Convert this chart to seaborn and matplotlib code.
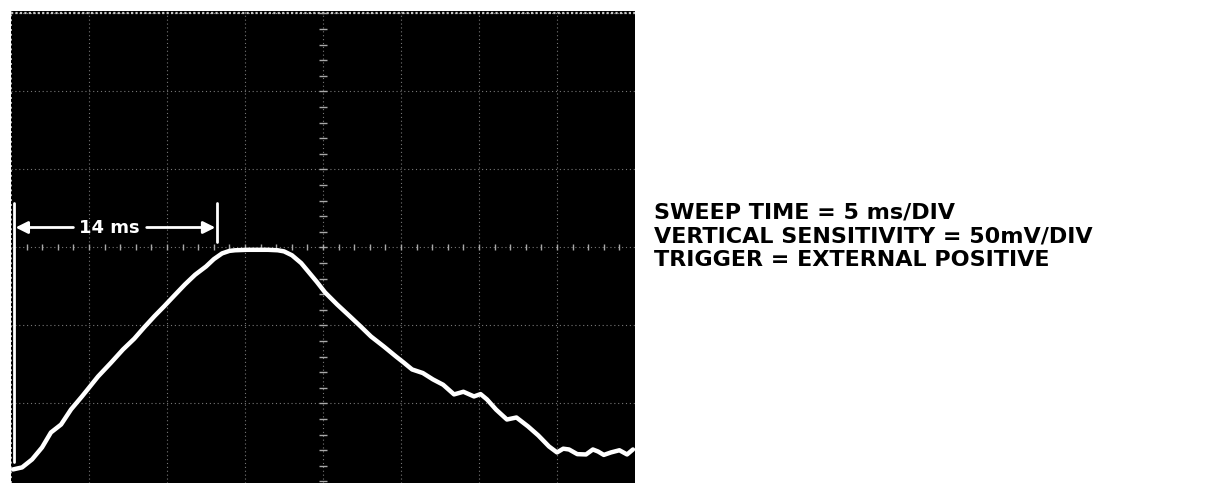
import numpy as np
import pandas as pd
import matplotlib
matplotlib.use("Agg")
import matplotlib.pyplot as plt
import seaborn as sns

# trace (time in ms, signal in mV, 0 = centre line)
time_ms = [0.13, 0.71, 1.35, 1.99, 2.56, 3.21, 3.85, 4.55, 5.58, 6.4, 7.18, 7.9,
           8.53, 9.2, 9.81, 10.5, 11.15, 11.8, 12.50, 13.0, 13.53, 14.0, 14.36,
           15.13, 16.47, 17.1, 17.50, 18.01, 18.6, 19.10, 19.6, 20.13, 20.9,
           21.73, 22.4, 23.08, 23.9, 24.68, 25.2, 25.71, 26.4, 27.05, 27.7,
           28.40, 29.0, 29.68, 30.1, 30.51, 31.1, 31.79, 32.4, 33.14, 33.8,
           34.49, 35.00, 35.4, 35.77, 36.3, 36.86, 37.3, 37.63, 38.0, 38.46,
           39.0, 39.49, 39.87]
signal_mv = [-142.3, -141.0, -135.9, -128.2, -118.6, -113.5, -103.8, -95.5,
             -82.7, -74.0, -65.4, -58.5, -51.3, -44.0, -37.8, -30.5, -23.7,
             -17.5, -12.2, -7.5, -3.8, -2.2, -1.8, -1.5, -1.5, -1.8, -2.5,
             -5.0, -10.0, -16.0, -22.0, -28.8, -36.5, -44.2, -50.5, -57.1,
             -63.5, -69.9, -74.0, -78.2, -80.5, -84.6, -88.0, -94.2, -92.5,
             -95.5, -94.0, -97.4, -104.0, -110.3, -109.0, -114.7, -120.5,
             -127.6, -131.4, -129.0, -129.5, -132.5, -132.7, -129.5, -130.8,
             -133.0, -131.4, -130.0, -132.7, -129.5]

info_lines = ["SWEEP TIME = 5 ms/DIV",
              "VERTICAL SENSITIVITY = 50mV/DIV",
              "TRIGGER = EXTERNAL POSITIVE"]
marker_label = "14 ms"
marker_start, marker_end = 0.19, 13.2

df = pd.DataFrame({"t": time_ms, "v": signal_mv})

sns.set_style("dark")
plt.rcParams["font.family"] = ["DejaVu Sans"]

fig = plt.figure(figsize=(12.19, 4.83), dpi=100)
fig.patch.set_facecolor("white")
ax = fig.add_axes([11 / 1219, 0, 624 / 1219, 472 / 483])
ax.set_facecolor("black")
ax.set_xlim(0, 40)
ax.set_ylim(-151, 151.6)

# graticule: dotted grey divisions, centre axes with fine ticks
for xv in np.arange(5, 40, 5):
    ax.axvline(xv, color="#777777", lw=0.8, ls=(0, (1, 2.5)), zorder=1)
for yv in np.arange(-100, 151, 50):
    ax.axhline(yv, color="#777777", lw=0.8, ls=(0, (1, 2.5)), zorder=1)
ax.axhline(150, color="#c8c8c8", lw=1.6, ls=(0, (1, 1)), zorder=1)
ax.axvline(0.02, color="#bdbdbd", lw=1.4, ls=(0, (1, 1.5)), zorder=1)
fine_y = np.arange(-150, 151, 10)
ax.plot(np.full_like(fine_y, 20.0, dtype=float), fine_y, ls="none", marker="_",
        ms=6, mew=1.0, color="#a8a8a8", zorder=1)
fine_x = np.arange(1, 40, 1)
ax.plot(fine_x, np.zeros_like(fine_x, dtype=float), ls="none", marker="|",
        ms=5, mew=1.0, color="#a8a8a8", zorder=1)

sns.lineplot(data=df, x="t", y="v", ax=ax, color="white", lw=3.2,
             estimator=None, sort=False, zorder=3)

# 14 ms marker
ax.plot([marker_start, marker_start], [28.8, -137.8], color="white", lw=2.0, zorder=3)
ax.plot([marker_end, marker_end], [28.8, 3.2], color="white", lw=2.0, zorder=3)
ax.text(6.3, 12.8, marker_label, color="white", fontsize=13, fontweight="bold",
        ha="center", va="center", zorder=4)
arrow = dict(arrowstyle="-|>", color="white", lw=2.0, mutation_scale=18,
             shrinkA=0, shrinkB=0)
ax.annotate("", xy=(marker_start + 0.1, 12.8), xytext=(4.0, 12.8), arrowprops=arrow)
ax.annotate("", xy=(marker_end - 0.1, 12.8), xytext=(8.7, 12.8), arrowprops=arrow)

ax.set_xlabel("")
ax.set_ylabel("")
ax.set_xticks([])
ax.set_yticks([])
for s in ax.spines.values():
    s.set_visible(False)

for i, line in enumerate(info_lines):
    fig.text(654 / 1219, 1 - (212 + 24 * i) / 483, line, fontsize=16,
             fontweight="bold", color="black", ha="left", va="center")

fig.savefig("out.png", dpi=100, facecolor="white")
